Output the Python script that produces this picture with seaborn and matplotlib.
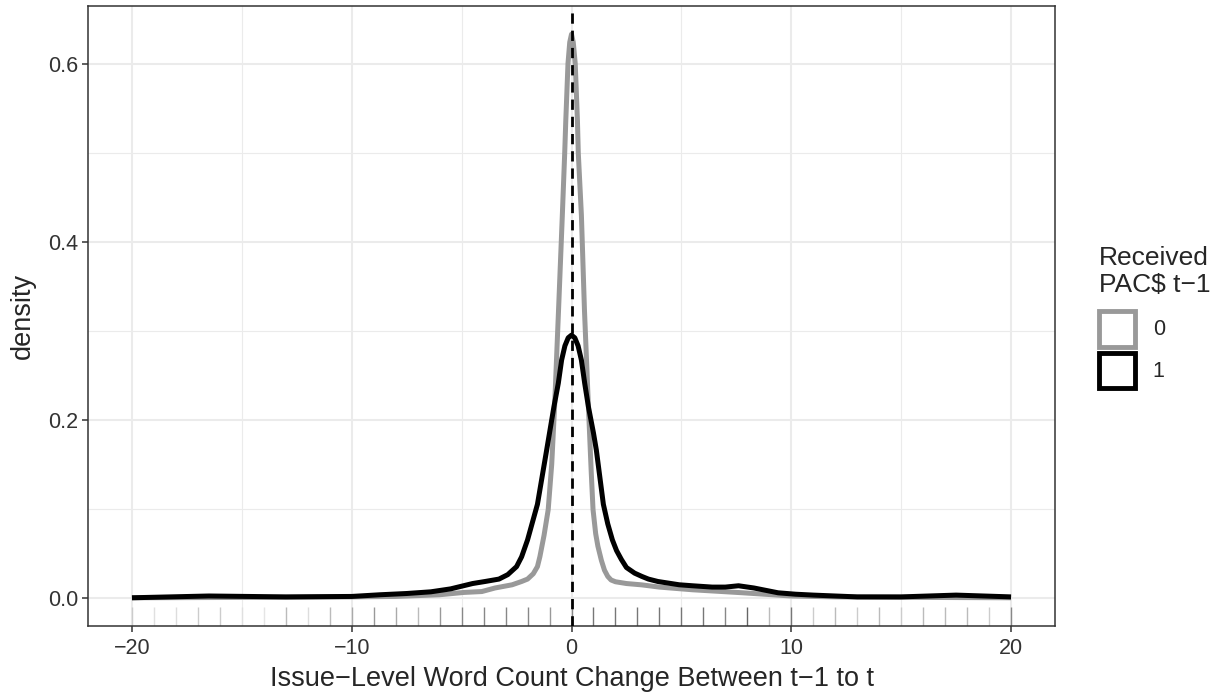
import numpy as np
import pandas as pd
import matplotlib
matplotlib.use("Agg")
import matplotlib.pyplot as plt
from matplotlib.patches import Patch
import seaborn as sns

sns.set_theme(style="white")
plt.rcParams["font.family"] = ["Liberation Sans", "DejaVu Sans"]

# density curves (x, density)
x_no_pac = [-20, -16, -13, -10, -8, -6, -4.9, -4.08, -3.48, -2.7, -2.27, -2.0, -1.74,
            -1.55, -1.44, -1.25, -1.06, -0.9, -0.77, -0.59, -0.42, -0.31, -0.26, -0.16,
            -0.08, 0, 0.08, 0.17, 0.27, 0.31, 0.45, 0.59, 0.77, 0.9, 0.98, 1.1, 1.2,
            1.36, 1.5, 1.65, 1.8, 2.0, 2.5, 3.2, 4.0, 5.5, 7.8, 10, 12, 15, 20]
d_no_pac = [0.0, 0.0003, 0.0005, 0.001, 0.0015, 0.0034, 0.006, 0.007, 0.011, 0.0146, 0.0183, 0.021, 0.027,
            0.035, 0.046, 0.07, 0.099, 0.15, 0.2145, 0.323, 0.428, 0.499, 0.536, 0.60,
            0.624, 0.633, 0.624, 0.60, 0.536, 0.499, 0.43, 0.323, 0.2145, 0.14, 0.099, 0.072, 0.058,
            0.042, 0.031, 0.024, 0.020, 0.018, 0.016, 0.0145, 0.012, 0.009, 0.0056, 0.002, 0.001, 0.0005, 0.0]

x_pac = [-20, -16.5, -13, -10, -8.7, -7.5, -6.4, -5.5, -4.5, -3.93, -3.3, -2.9, -2.5, -2.27, -2.0,
         -1.55, -1.13, -0.8, -0.6, -0.45, -0.3, -0.15, 0, 0.15, 0.3, 0.45, 0.6, 0.77, 1.0, 1.13,
         1.45, 1.65, 1.86, 2.05, 2.27, 2.5, 2.87, 3.2, 3.5, 3.93, 4.9, 5.5, 6.4, 7.0, 7.6,
         8.3, 9.4, 10.2, 11, 13, 15, 17.5, 20]
d_pac = [0.0, 0.002, 0.001, 0.0015, 0.0034, 0.0048, 0.0067, 0.010, 0.016, 0.0183, 0.021, 0.026, 0.035, 0.046, 0.065,
         0.105, 0.166, 0.2145, 0.241, 0.267, 0.283, 0.292, 0.295, 0.292, 0.283, 0.267, 0.241, 0.2145, 0.185, 0.166,
         0.105, 0.083, 0.065, 0.053, 0.043, 0.034, 0.0277, 0.024, 0.021, 0.0183, 0.0146, 0.0135, 0.012, 0.012, 0.0135,
         0.011, 0.0056, 0.004, 0.003, 0.001, 0.001, 0.003, 0.001]

# rug ticks at integer changes, with their grey shade
rug_x = list(range(-20, 21))
rug_shade = ["#cccccc", "#e0e0e0", "#dddddd", "#cccccc", "#cccccc", "#e0e0e0", "#e5e5e5",
             "#bbbbbb", "#dddddd", "#bbbbbb", "#aaaaaa", "#999999", "#aaaaaa", "#bbbbbb",
             "#999999", "#888888", "#888888", "#888888", "#888888", "#999999", "#888888",
             "#777777", "#777777", "#777777", "#777777", "#777777", "#777777", "#888888",
             "#666666", "#bbbbbb", "#777777", "#cccccc", "#bbbbbb", "#cccccc", "#bbbbbb",
             "#cccccc", "#bbbbbb", "#bbbbbb", "#bbbbbb", "#cccccc", "#888888"]

groups = ["0", "1"]
colors = {"0": "#999999", "1": "#000000"}

df = pd.concat([
    pd.DataFrame({"x": x_no_pac, "density": d_no_pac, "pac": "0"}),
    pd.DataFrame({"x": x_pac, "density": d_pac, "pac": "1"}),
])

fig = plt.figure(figsize=(12.21, 6.96), dpi=100)
ax = fig.add_axes([88 / 1221, 70 / 696, (1055 - 88) / 1221, (626 - 6) / 696])

sns.rugplot(x=rug_x, hue=[str(v) for v in rug_x],
            palette=dict(zip([str(v) for v in rug_x], rug_shade)),
            height=0.03, lw=1.8, legend=False, ax=ax)
sns.lineplot(data=df, x="x", y="density", hue="pac", palette=colors,
             estimator=None, lw=3.6, legend=False, ax=ax, zorder=3,
             solid_joinstyle="round", solid_capstyle="butt")
ax.axvline(0, color="black", lw=2.0, dashes=(3.7, 2.5), zorder=4)

ax.set_xlim(-22, 22)
ax.set_ylim(-0.0317, 0.6647)
ax.set_xticks([-20, -10, 0, 10, 20])
ax.set_xticks([-15, -5, 5, 15], minor=True)
ax.set_yticks([0.0, 0.2, 0.4, 0.6])
ax.set_yticks([0.1, 0.3, 0.5], minor=True)
ax.set_xticklabels(["\u221220", "\u221210", "0", "10", "20"])
ax.set_yticklabels(["0.0", "0.2", "0.4", "0.6"])
ax.grid(which="major", color="#ebebeb", lw=1.5, zorder=0)
ax.grid(which="minor", color="#ebebeb", lw=0.8, zorder=0)
ax.set_axisbelow(True)
for s in ax.spines.values():
    s.set_color("#333333")
    s.set_linewidth(1.1)
ax.tick_params(which="major", length=4, width=1.1, color="#333333",
               labelsize=15.5, labelcolor="#333333", pad=3, bottom=True, left=True)
ax.tick_params(axis="x", which="major", pad=5)
ax.tick_params(which="minor", length=0)
ax.set_xlabel("Issue\u2212Level Word Count Change Between t\u22121 to t", fontsize=19.5, labelpad=5)
ax.set_ylabel("density", fontsize=19.5, labelpad=9)

handles = [Patch(facecolor="white", edgecolor=colors[g], lw=3.5) for g in groups]
leg = fig.legend(handles, groups, title="Received\nPAC\\$ t\u22121", loc="upper left",
                 bbox_to_anchor=(1090 / 1221, 1 - 237 / 696), frameon=False,
                 fontsize=15.5, title_fontsize=19, handlelength=1.67, handleheight=2.19,
                 labelspacing=0.28, handletextpad=0.85, alignment="left", borderaxespad=0)
leg._legend_box.sep = 9.5  # extra room between legend title and keys

fig.savefig("out.png", dpi=100)
